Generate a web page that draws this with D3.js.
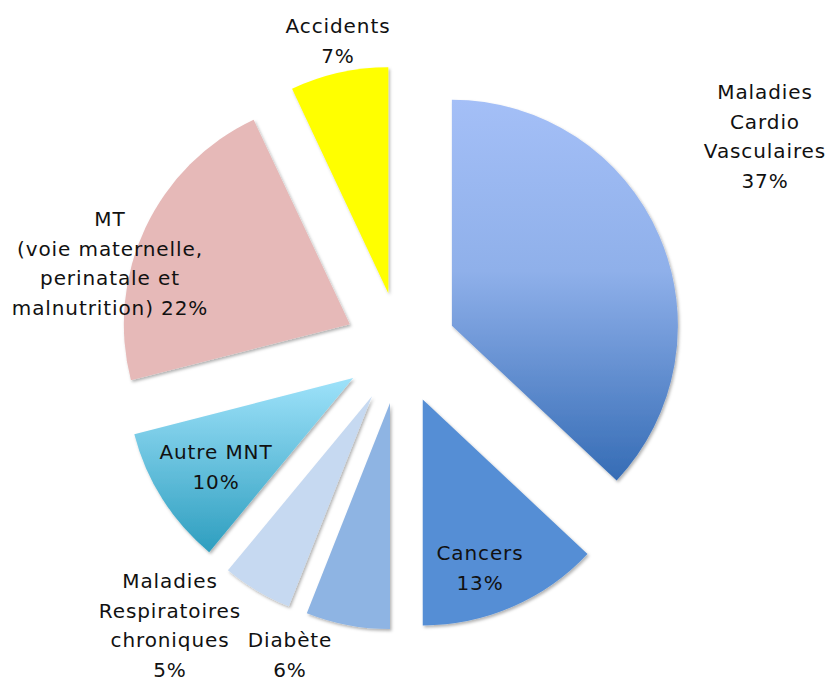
<!DOCTYPE html>
<html>
<head>
<meta charset="utf-8">
<script src="https://cdn.jsdelivr.net/npm/d3@7"></script>
<style>
  body { margin: 0; background: #fff; }
  text { font-family: "DejaVu Sans", sans-serif; font-size: 20px; letter-spacing: 0.9px; fill: #111; }
</style>
</head>
<body>
<div id="chart"></div>
<script>
const categories = ["Maladies Cardio Vasculaires", "Cancers", "Diabète", "Maladies Respiratoires chroniques", "Autre MNT", "MT", "Accidents"];
const values = [37, 13, 6, 5, 10, 22, 7];
const fills = ["url(#gradCardio)", "#558ed5", "#8eb4e3", "#c6d9f1", "url(#gradAutre)", "#e6b9b8", "#ffff00"];

// label lines + anchor positions
const labelLines = [
    ["Maladies", "Cardio", "Vasculaires", "37%"],
    ["Cancers", "13%"],
    ["Diabète", "6%"],
    ["Maladies", "Respiratoires", "chroniques", "5%"],
    ["Autre MNT", "10%"],
    ["MT", "(voie maternelle,", "perinatale et", "malnutrition) 22%"],
    ["Accidents", "7%"]
];
const labelPos = [[765, 99], [480, 560], [290, 647], [170, 588], [216, 459], [110, 226], [338, 33]];

const width = 833, height = 680;
const cx = 400.5, cy = 348, radius = 226, explode = 56;

const svg = d3.select("#chart").append("svg")
    .attr("width", width)
    .attr("height", height);

const defs = svg.append("defs");

const g1 = defs.append("linearGradient").attr("id", "gradCardio")
    .attr("x1", 0).attr("y1", 0).attr("x2", 0).attr("y2", 1);
g1.append("stop").attr("offset", "0%").attr("stop-color", "#a4bff7");
g1.append("stop").attr("offset", "45%").attr("stop-color", "#8fb0ea");
g1.append("stop").attr("offset", "100%").attr("stop-color", "#356cb5");

const g2 = defs.append("linearGradient").attr("id", "gradAutre")
    .attr("x1", 0).attr("y1", 0).attr("x2", 0).attr("y2", 1);
g2.append("stop").attr("offset", "0%").attr("stop-color", "#9ee2fa");
g2.append("stop").attr("offset", "100%").attr("stop-color", "#2e9ebf");

const shadow = defs.append("filter").attr("id", "shadow")
    .attr("x", "-10%").attr("y", "-10%").attr("width", "130%").attr("height", "130%");
shadow.append("feDropShadow")
    .attr("dx", 1.5).attr("dy", 2)
    .attr("stdDeviation", 1.8)
    .attr("flood-color", "#000")
    .attr("flood-opacity", 0.3);

const pie = d3.pie().sort(null).value(d => d)(values);
const arc = d3.arc().innerRadius(0).outerRadius(radius);

const chart = svg.append("g").attr("transform", `translate(${cx},${cy})`);

chart.selectAll("path")
    .data(pie)
    .enter().append("path")
    .attr("d", arc)
    .attr("fill", (d, i) => fills[i])
    .attr("filter", "url(#shadow)")
    .attr("transform", d => {
        const a = (d.startAngle + d.endAngle) / 2;
        return `translate(${explode * Math.sin(a)},${-explode * Math.cos(a)})`;
    });

labelLines.forEach((lines, i) => {
    const t = svg.append("text")
        .attr("text-anchor", "middle")
        .attr("x", labelPos[i][0])
        .attr("y", labelPos[i][1]);
    lines.forEach((line, j) => {
        t.append("tspan")
            .attr("x", labelPos[i][0])
            .attr("dy", j === 0 ? 0 : 29.5)
            .text(line);
    });
});
</script>
</body>
</html>
